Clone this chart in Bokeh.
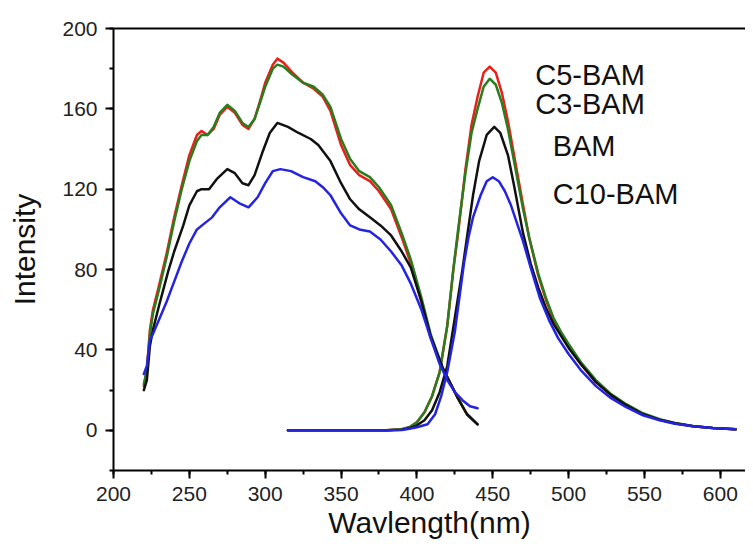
from bokeh.plotting import figure
from bokeh.models import Range1d, SingleIntervalTicker, FixedTicker, LinearAxis, ColumnDataSource
from bokeh.core.properties import value
from bokeh.embed import file_html
from bokeh.resources import INLINE

# ---------------- data ----------------
series_names = ["C5-BAM", "C3-BAM", "BAM", "C10-BAM"]
series_colors = ["#e8201a", "#2a7d1e", "#111111", "#2424e0"]

# excitation spectra
ex_c5_x = [220, 222, 224, 226, 230, 235, 240, 245, 250, 255, 258, 262, 266, 270, 275, 280, 285, 289, 293, 297,
           300, 305, 308, 312, 318, 325, 332, 338, 343, 350, 356, 362, 369, 375, 383, 390, 396, 403, 409, 417,
           427, 433, 440]
ex_c5_y = [22, 30, 50, 60, 72, 88, 106, 122, 137, 147, 149, 147, 150, 157, 161, 158, 152, 150, 155, 165,
           173, 182, 185, 183, 178, 173, 170, 166, 159, 142, 132, 127, 124, 119, 110, 96, 83, 64, 46, 31,
           16, 8, 3]

ex_c3_x = [220, 222, 224, 226, 230, 235, 240, 245, 250, 255, 258, 262, 266, 270, 275, 280, 285, 289, 293, 297,
           300, 305, 308, 312, 318, 325, 332, 338, 343, 350, 356, 362, 369, 375, 383, 390, 396, 403, 409, 417,
           427, 433, 440]
ex_c3_y = [23, 30, 48, 58, 70, 86, 104, 120, 134, 144, 147, 147, 151, 158, 162, 159, 153, 151, 155, 164,
           171, 180, 182, 181, 177, 173, 171, 167, 161, 145, 135, 129, 126, 121, 112, 98, 85, 66, 48, 31,
           16, 8, 3]

ex_bam_x = [220, 222, 224, 226, 230, 236, 240, 246, 250, 255, 258, 263, 268, 275, 280, 285, 289, 293, 298, 303,
            308, 315, 322, 330, 335, 343, 350, 356, 362, 369, 376, 383, 390, 396, 403, 409, 417, 427, 433, 440]
ex_bam_y = [20, 25, 42, 50, 62, 79, 89, 102, 112, 119, 120, 120, 125, 130, 128, 123, 122, 127, 138, 148,
            153, 151, 148, 145, 142, 134, 123, 115, 110, 106, 102, 97, 89, 81, 64, 47, 31, 16, 8, 3]

ex_c10_x = [220, 222, 224, 226, 230, 235, 240, 245, 250, 255, 260, 265, 270, 277, 283, 289, 295, 300, 305, 310,
            317, 325, 333, 338, 343, 350, 356, 362, 369, 376, 383, 390, 396, 403, 409, 415, 420, 425, 430, 435, 440]
ex_c10_y = [28, 32, 45, 48, 55, 64, 74, 84, 93, 100, 103, 106, 111, 116, 113, 111, 116, 123, 129, 130,
            129, 126, 124, 121, 117, 108, 102, 100, 99, 95, 89, 82, 73, 60, 46, 33, 25, 19, 15, 12, 11]

# emission spectra
em_c5_x = [315, 350, 380, 390, 395, 400, 405, 410, 415, 420, 424, 427, 432, 436, 440, 444, 448, 452, 456, 460,
           465, 470, 474, 480, 485, 490, 495, 500, 508, 518, 528, 538, 549, 560, 570, 582, 595, 610]
em_c5_y = [0, 0, 0, 0.5, 1.5, 4, 9, 17, 29, 52, 80, 97, 130, 152, 166, 178, 181, 178, 168, 154,
           133, 112, 96, 77, 65, 55, 48, 42, 33, 24, 17.5, 12.5, 8, 5.3, 3.5, 2, 1.1, 0.5]

em_c3_x = [315, 350, 380, 390, 395, 400, 405, 410, 415, 420, 424, 427, 432, 436, 440, 444, 448, 452, 456, 460,
           465, 470, 474, 480, 485, 490, 495, 500, 508, 518, 528, 538, 549, 560, 570, 582, 595, 610]
em_c3_y = [0, 0, 0, 0.5, 1.5, 4, 9, 17, 29, 52, 80, 99, 128, 148, 160, 171, 175, 172, 163, 150,
           130, 110, 96, 78, 66, 56, 49, 43, 34, 25, 18, 13, 8.5, 5.5, 3.7, 2.2, 1.2, 0.5]

em_bam_x = [315, 350, 380, 390, 395, 400, 405, 410, 415, 420, 425, 430, 433, 437, 441, 446, 451, 455, 460, 464,
            470, 475, 480, 485, 490, 495, 500, 508, 518, 528, 538, 549, 560, 570, 582, 595, 610]
em_bam_y = [0, 0, 0, 0.3, 1, 2.5, 5, 10, 19, 32, 56, 80, 96, 117, 134, 147, 151, 148, 137, 122,
            98, 83, 71, 61, 53, 47, 41, 33, 24, 17.5, 12.5, 8, 5.3, 3.5, 2, 1.1, 0.5]

em_c10_x = [315, 350, 380, 390, 395, 400, 407, 412, 416, 420, 425, 431, 434, 437, 442, 446, 450, 454, 458, 462,
            466, 470, 475, 481, 487, 493, 500, 508, 518, 528, 538, 549, 560, 570, 582, 595, 610]
em_c10_y = [0, 0, 0, 0.2, 0.8, 1.5, 3, 8, 17, 29, 49, 83, 96, 106, 117, 124, 126, 124, 119, 112,
            103, 94, 81, 66, 55, 46, 38, 30, 22, 16, 11.5, 7.5, 5, 3.3, 2, 1.1, 0.5]

x_ticks_interval = 50
y_ticks_interval = 40

# label positions (annotation placement, data units)
label_x = [478, 478, 489.5, 489.5]
label_y = [177, 162.5, 141.3, 117.4]

# ---------------- figure ----------------
FONT = "Liberation Sans"

p = figure(width=745, height=541, output_backend="svg", toolbar_location=None,
           x_range=Range1d(200, 616.6), y_range=Range1d(-20, 200),
           min_border_left=113, min_border_right=0, min_border_top=28, min_border_bottom=71,
           x_axis_label="Wavlength(nm)", y_axis_label="Intensity")
p.outline_line_color = None
p.xgrid.visible = False
p.ygrid.visible = False
p.background_fill_color = "white"
p.border_fill_color = "white"

for ax, interval in ((p.xaxis[0], x_ticks_interval), (p.yaxis[0], y_ticks_interval)):
    ax.ticker = SingleIntervalTicker(interval=interval, num_minor_ticks=2)
    ax.axis_line_width = 2
    ax.axis_line_color = "black"
    ax.major_tick_line_width = 2
    ax.minor_tick_line_width = 2
    ax.major_tick_line_color = "black"
    ax.minor_tick_line_color = "black"
    ax.major_tick_in = 0
    ax.major_tick_out = 8
    ax.minor_tick_in = 0
    ax.minor_tick_out = 4
    ax.major_label_text_font = FONT
    ax.major_label_text_font_size = "21px"
    ax.major_label_text_color = "#222222"
    ax.major_label_standoff = 8
    ax.axis_label_text_font = FONT
    ax.axis_label_text_font_size = "30px"
    ax.axis_label_text_font_style = "normal"
    ax.axis_label_text_color = "#111111"

p.xaxis.axis_label_standoff = 2
p.yaxis.axis_label_standoff = 18

# top frame line (no ticks, no labels)
top = LinearAxis(ticker=FixedTicker(ticks=[]), major_tick_line_color=None, minor_tick_line_color=None,
                 axis_line_width=2, axis_line_color="black")
p.add_layout(top, "above")

ex_x = [ex_c5_x, ex_c3_x, ex_bam_x, ex_c10_x]
ex_y = [ex_c5_y, ex_c3_y, ex_bam_y, ex_c10_y]
em_x = [em_c5_x, em_c3_x, em_bam_x, em_c10_x]
em_y = [em_c5_y, em_c3_y, em_bam_y, em_c10_y]

for i in range(4):
    p.line(ex_x[i], ex_y[i], line_color=series_colors[i], line_width=2.5, line_join="round", line_cap="round")
    p.line(em_x[i], em_y[i], line_color=series_colors[i], line_width=2.5, line_join="round", line_cap="round")

src = ColumnDataSource(dict(x=label_x, y=label_y, t=series_names))
p.text(x="x", y="y", text="t", source=src, text_font=value(FONT), text_font_size="29px",
       text_color="#111111", text_baseline="alphabetic", text_align="left")

open("out.html", "w").write(file_html(p, INLINE))
